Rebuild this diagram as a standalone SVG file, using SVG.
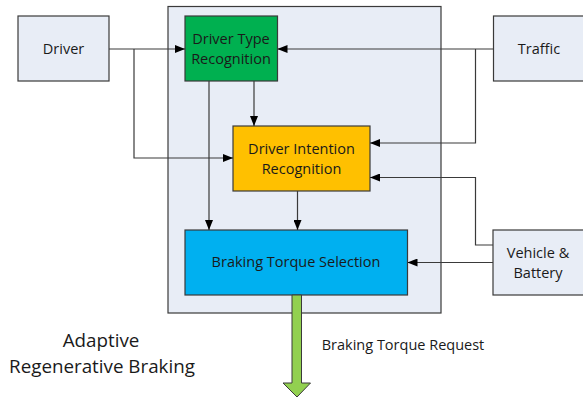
<svg xmlns="http://www.w3.org/2000/svg" width="583" height="399" viewBox="0 0 583 399">
<style>
.box{stroke:#3a3a3a;stroke-width:1.2}
.light{fill:#e8edf6}
.t{font-family:"Open Sans","Liberation Sans",sans-serif;font-size:14.5px;fill:#1a1a1a;text-anchor:middle}
.big{font-family:"Open Sans","Liberation Sans",sans-serif;font-size:18.8px;fill:#1a1a1a;text-anchor:middle}
.c{fill:none;stroke:#3a3a3a;stroke-width:1.2}
</style>
<defs>
<marker id="ah" viewBox="0 0 10 8" refX="10" refY="4" markerWidth="10" markerHeight="8" markerUnits="userSpaceOnUse" orient="auto">
<path d="M0,0 L10,4 L0,8 Z" fill="#000"/>
</marker>
</defs>
<rect id="container" x="168" y="6.5" width="273" height="306.5" class="box light"/>
<g id="driver"><rect x="18" y="16" width="91" height="65" class="box light"/><text x="63.5" y="54" class="t">Driver</text></g>
<g id="traffic"><rect x="493.5" y="16" width="92" height="65" class="box light"/><text x="539" y="54" class="t">Traffic</text></g>
<g id="vehicle"><rect x="493" y="230" width="92" height="65" class="box light"/><text x="538" y="258" class="t">Vehicle &amp;</text><text x="538" y="278" class="t">Battery</text></g>
<g id="dtr"><rect x="185" y="16" width="92.5" height="65" class="box" fill="#00b050"/><text x="231" y="44" class="t">Driver Type</text><text x="231" y="64" class="t">Recognition</text></g>
<g id="dir"><rect x="233" y="126" width="137" height="65" class="box" fill="#ffc000"/><text x="301.5" y="154" class="t">Driver Intention</text><text x="301.5" y="174" class="t">Recognition</text></g>
<g id="bts"><rect x="185" y="230" width="222.5" height="65" class="box" fill="#00b0f0"/><text x="296" y="267" class="t">Braking Torque Selection</text></g>
<g id="output"><path d="M292,295 H301.5 V383 H310.5 L297,397 L283,383 H292 Z" fill="#92d050" stroke="#3a3a3a" stroke-width="1"/></g>
<g id="connectors">
<path class="c" d="M109,49 H185" marker-end="url(#ah)"/>
<path class="c" d="M134,49 V158 H233" marker-end="url(#ah)"/>
<path class="c" d="M493.5,49 H277.5" marker-end="url(#ah)"/>
<path class="c" d="M475.5,49 V143 H370" marker-end="url(#ah)"/>
<path class="c" d="M493,245 H475.5 V177.5 H370" marker-end="url(#ah)"/>
<path class="c" d="M493,262.5 H407.5" marker-end="url(#ah)"/>
<path class="c" d="M254,81 V126" marker-end="url(#ah)"/>
<path class="c" d="M209,81 V230" marker-end="url(#ah)"/>
<path class="c" d="M297.5,191 V230" marker-end="url(#ah)"/>
</g>
<text x="101" y="347" class="big">Adaptive</text>
<text x="102" y="373" class="big">Regenerative Braking</text>
<text x="403" y="350" class="t">Braking Torque Request</text>
</svg>
